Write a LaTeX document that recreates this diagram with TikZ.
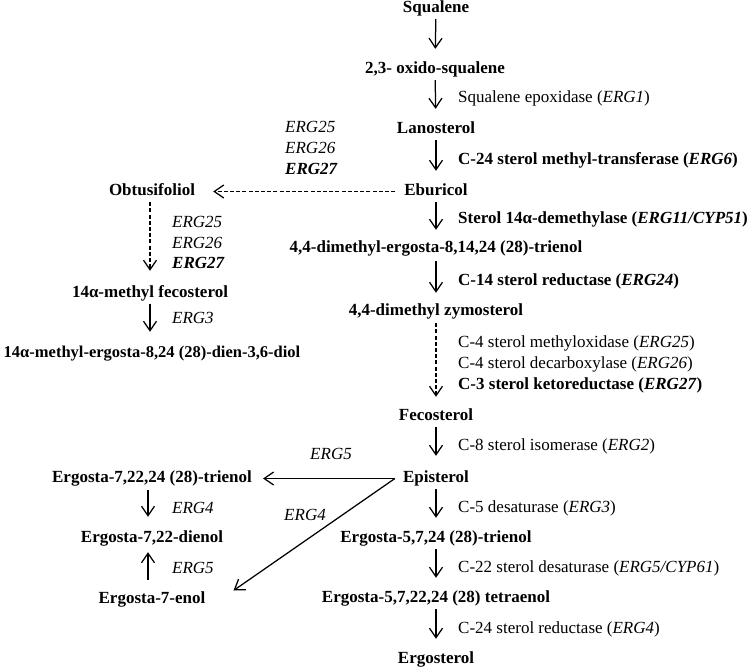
\documentclass[tikz,border=0pt]{standalone}
\usepackage{fontspec}
\setmainfont{Liberation Serif}
\usetikzlibrary{arrows.meta}
\newcommand\myfs{\fontsize{17}{19}\selectfont}
\begin{document}
\begin{tikzpicture}[x=1pt,y=-1pt,
  cpd/.style={font=\myfs\bfseries, inner sep=0pt, text height=11.5pt, text depth=3.5pt, anchor=base},
  enz/.style={font=\myfs, inner sep=0pt, anchor=base west},
  enzb/.style={font=\myfs\bfseries, inner sep=0pt, anchor=base west},
  gene/.style={font=\myfs\itshape, inner sep=0pt, anchor=base west},
  geneb/.style={font=\myfs\bfseries\itshape, inner sep=0pt, anchor=base west},
  genec/.style={font=\myfs\itshape, inner sep=0pt, anchor=base},
  arr/.style={line width=1.25pt, -{Straight Barb[length=9.5pt,width=13pt,line width=1.25pt]}},
  darr/.style={arr, dash pattern=on 4pt off 2.2pt},
  vstep/.style={shorten <=3pt, shorten >=13pt},
]
\useasboundingbox[fill=white] (0,0) rectangle (750,669);

% main column
\node[cpd] (sq)  at (436,12.5)  {Squalene};
\node[cpd] (ox)  at (435,73.5)  {2,3- oxido-squalene};
\node[cpd] (lan) at (436,133.5) {Lanosterol};
\node[cpd] (ebu) at (436,195.5) {Eburicol};
\node[cpd] (tri) at (436,252.5) {4,4-dimethyl-ergosta-8,14,24 (28)-trienol};
\node[cpd] (zym) at (436,315.5) {4,4-dimethyl zymosterol};
\node[cpd] (fec) at (436,420.5) {Fecosterol};
\node[cpd] (epi) at (436,482.5) {Episterol};
\node[cpd] (e57) at (436,542.5) {Ergosta-5,7,24 (28)-trienol};
\node[cpd] (tet) at (436,602.5) {Ergosta-5,7,22,24 (28) tetraenol};
\node[cpd] (erg) at (436,663.5) {Ergosterol};

% enzyme labels
\node[enz]  (l1) at (458,102.5) {Squalene epoxidase (\textit{ERG1})};
\node[enzb] (l2) at (458,164.5) {C-24 sterol methyl-transferase (\textit{ERG6})};
\node[enzb] (l3) at (458,223.5) {Sterol 14α-demethylase (\textit{ERG11/CYP51})};
\node[enzb] (l4) at (458,285.5) {C-14 sterol reductase (\textit{ERG24})};
\node[enz]  (l5) at (458,347.5) {C-4 sterol methyloxidase (\textit{ERG25})};
\node[enz]  (l6) at (458,368.5) {C-4 sterol decarboxylase (\textit{ERG26})};
\node[enzb] (l7) at (458,389.5) {C-3 sterol ketoreductase (\textit{ERG27})};
\node[enz]  (l8) at (458,450.5) {C-8 sterol isomerase (\textit{ERG2})};
\node[enz]  (l9) at (458,512.5) {C-5 desaturase (\textit{ERG3})};
\node[enz]  (l10) at (458,572.5) {C-22 sterol desaturase (\textit{ERG5/CYP61})};
\node[enz]  (l11) at (458,633.5) {C-24 sterol reductase (\textit{ERG4})};

% main arrows
\draw[arr,vstep] (sq) -- (ox);
\draw[arr,vstep] (ox) -- (lan);
\draw[arr,vstep] (lan) -- (ebu);
\draw[arr,shorten <=3pt,shorten >=11pt] (ebu) -- (tri);
\draw[arr,shorten <=5pt,shorten >=11pt] (tri) -- (zym);
\draw[darr,shorten <=4pt,shorten >=12pt] (zym) -- (fec);
\draw[arr,shorten <=3pt,shorten >=15pt] (fec) -- (epi);
\draw[arr,vstep] (epi) -- (e57);
\draw[arr,vstep] (e57) -- (tet);
\draw[arr,vstep] (tet) -- (erg);

% left upper branch
\node[gene]  (g1) at (285,132.5) {ERG25};
\node[gene]  (g2) at (285,153.5) {ERG26};
\node[geneb] (g3) at (285,174.5) {ERG27};
\node[cpd] (obt) at (152,195.5) {Obtusifoliol};
\draw[darr,shorten <=9pt,shorten >=18pt] (ebu.west) -- (obt.east);

\node[gene]  (g4) at (172,227.5) {ERG25};
\node[gene]  (g5) at (172,248.5) {ERG26};
\node[geneb] (g6) at (172,268.5) {ERG27};
\node[cpd] (mfec) at (150,297.5) {14α-methyl fecosterol};
\draw[darr,shorten <=3pt,shorten >=15pt] (obt.south -| mfec.south) -- (mfec.north);
\node[gene] (g7) at (172,323.5) {ERG3};
\node[cpd, font=\fontsize{16.5}{19}\selectfont\bfseries] (diol) at (152,357.5) {14α-methyl-ergosta-8,24 (28)-dien-3,6-diol};
\draw[arr,shorten <=3pt,shorten >=14pt] (mfec) -- (mfec |- diol.north);

% left lower branch
\node[cpd] (tri2) at (152,482.5) {Ergosta-7,22,24 (28)-trienol};
\node[cpd] (die)  at (152,542.5) {Ergosta-7,22-dienol};
\node[cpd] (eno)  at (152,603.5) {Ergosta-7-enol};
\node[genec] (g8) at (331,459.5) {ERG5};
\node[genec] (g9) at (305,520.5) {ERG4};
\node[gene] (g10) at (172,513.5) {ERG4};
\node[gene] (g11) at (172,573.5) {ERG5};

\coordinate (epiL) at ([xshift=-8pt]epi.west);
\coordinate (enoTip) at ([shift={(28pt,9pt)}]eno.east);
\draw[arr,shorten >=11pt] (epiL) -- (tri2.east);
\draw[arr] (epiL) -- (enoTip);
\draw[arr,shorten <=4pt,shorten >=14pt] ([xshift=-4pt]tri2.south) -- ([xshift=-4pt]die.north);
\draw[arr,shorten <=12pt,shorten >=6pt] ([xshift=-4pt]eno.north) -- ([xshift=-4pt]die.south);
\end{tikzpicture}
\end{document}
